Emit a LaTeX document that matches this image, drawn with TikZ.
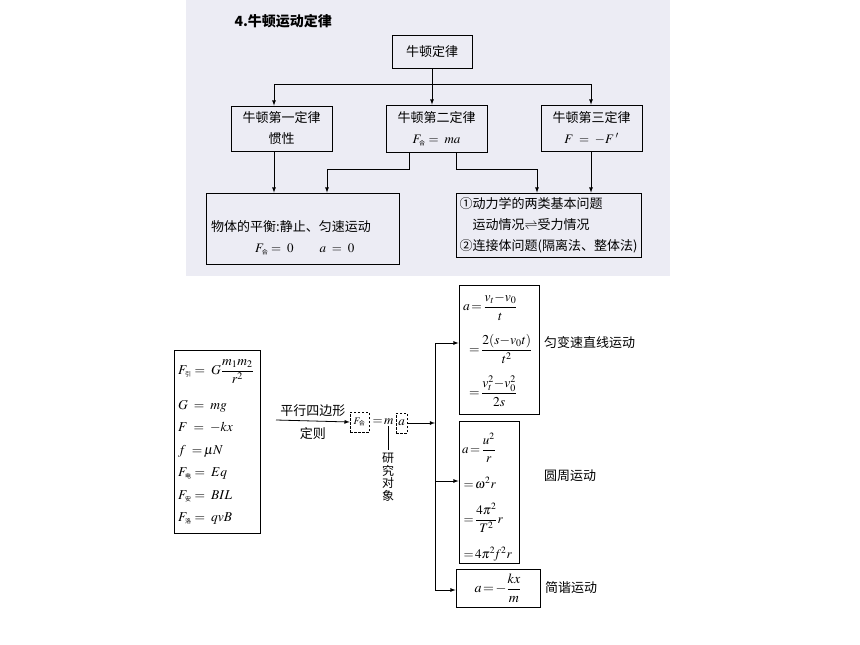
\documentclass[tikz,border=0pt]{standalone}
\usepackage{amsmath}
\usepackage{mathptmx}
\usepackage[no-math]{fontspec}
\setmainfont{Noto Sans CJK SC}
\usepackage{tikz}
\usetikzlibrary{arrows,positioning}
\definecolor{dibu}{RGB}{236,236,244}
\newcommand{\zi}[1]{\mbox{\fontsize{6}{6}\selectfont #1}}
\newcommand{\zhong}{\fontsize{13}{21}\selectfont}
\tikzstyle{kuang} = [draw, line width=0.8pt, rectangle, inner sep=0pt, align=center, font=\zhong]
\tikzstyle{xukuang} = [draw, line width=0.6pt, dash pattern=on 2.5pt off 1.5pt, inner sep=1.5pt, minimum height=20]
\tikzstyle{xian} = [line width=0.8pt]
\tikzstyle{jiantou} = [-latex, line width=0.8pt]
\tikzstyle{gongshi} = [align=left, inner sep=0pt, font=\fontsize{14}{22}\selectfont]
\tikzstyle{biaozhu} = [anchor=west, inner sep=0pt, font=\zhong]

\begin{document}
\begin{tikzpicture}[x=1pt,y=-1pt]
\useasboundingbox (0,0) rectangle (860,645);
\fill[dibu] (186,0) rectangle (670,276);
% 牛顿运动定律
\node[anchor=west, font=\fontsize{14}{14}\selectfont\bfseries] (biaoti) at (231,21) {4.牛顿运动定律};
\node[kuang, minimum width=80, minimum height=33] (dinglv) at (432,51.5) {牛顿定律};
\node[kuang, minimum width=101, minimum height=45] (diyi) at (281.5,128.5) {牛顿第一定律\\惯性};
\node[kuang, minimum width=101, minimum height=47] (dier) at (436.5,128.5) {牛顿第二定律\\$F_{\zi{合}}=\;ma$};
\node[kuang, minimum width=101, minimum height=46] (disan) at (591.5,128) {牛顿第三定律\\$F\;=\;-F\,'$};
\node[kuang, minimum width=193, minimum height=71] (pingheng) at (302.5,228.5) {};
\node[biaozhu, align=left] (pinghengzi) at (211,238) {物体的平衡:静止、匀速运动\\\hspace*{44pt}$F_{\zi{合}}=\;0\qquad a\;=\;0$};
\node[kuang, minimum width=185, minimum height=64, align=left] (jiben) at (548.5,225) {①动力学的两类基本问题\\\hspace*{1em}运动情况$\rightleftharpoons$受力情况\\②连接体问题(隔离法、整体法)};
\coordinate (z1) at (274,84);
\coordinate (z3) at (591,84);
\coordinate (z4) at (409,169);
\coordinate (z5) at (456,169);
\coordinate (z6) at (327,169);
\coordinate (z7) at (537,169);
\draw[jiantou] (dinglv.south) -- (dinglv.south |- dier.north);
\draw[xian] (z1) -- (z3);
\draw[jiantou] (z1) -- (z1 |- diyi.north);
\draw[jiantou] (z3) -- (z3 |- disan.north);
\draw[jiantou] (z1 |- diyi.south) -- (z1 |- pingheng.north);
\draw[jiantou] (z3 |- disan.south) -- (z3 |- jiben.north);
\draw[jiantou] (z4 |- dier.south) -- (z4) -- (z6) -- (z6 |- pingheng.north);
\draw[jiantou] (z5 |- dier.south) -- (z5) -- (z7) -- (z7 |- jiben.north);
% F=ma
\node[kuang, minimum width=86, minimum height=183] (lizhong) at (217,441.5) {};
\node[gongshi, anchor=west, font=\fontsize{13.5}{22.5}\selectfont] (lizhongzi) at (178,442) {$F_{\zi{引}}=\;G\dfrac{m_1m_2}{r^2}$\\[12pt]
$G\;=\;mg$\\ $F\;=\;{-}kx$\\ $f\;=\!\mu N$\\ $F_{\zi{电}}=\;Eq$\\ $F_{\zi{安}}=\;BIL$\\ $F_{\zi{洛}}=\;qvB$};
\coordinate (pxs) at (276,420);
\node[xukuang, minimum width=19] (fhe) at (359.5,422) {$F_{\zi{合}}$};
\node[inner sep=1pt, font=\fontsize{13}{13}\selectfont] (dengm) at (383,422) {$=\!m$};
\node[xukuang, minimum width=11, inner xsep=0.5pt, font=\fontsize{13}{13}\selectfont] (ajia) at (401.5,423) {$a$};
\draw[jiantou] (pxs) -- (fhe.west) node[midway, above=1pt, font=\zhong] (pxsz) {平行四边形} node[midway, below=3pt, font=\zhong] (dingze) {定则};
\node[align=center, font=\fontsize{12}{12.5}\selectfont] (yanjiu) at (388,477) {研\\究\\对\\象};
\draw[xian] (yanjiu.north |- dengm.south) -- (yanjiu.north);
\coordinate (gt) at (435,343);
\coordinate (gm) at (435,481);
\coordinate (gb) at (435,590);
\node[kuang, minimum width=80, minimum height=129] (biansu) at (499,349.5) {};
\node[kuang, minimum width=60, minimum height=142] (yuanzhou) at (489,492) {};
\node[kuang, minimum width=84, minimum height=38] (jianxie) at (498,588) {};
\node[gongshi, anchor=west, font=\fontsize{13.5}{43}\selectfont] (biansuzi) at (463,350) {$a\!=\!\dfrac{v_t{-}v_0}{t}$\\
$\;\;=\!\dfrac{2(s{-}v_0t)}{t^2}$\\ $\;\;=\!\dfrac{v_t^2{-}v_0^2}{2s}$};
\node[gongshi, anchor=west, font=\fontsize{13}{35}\selectfont] (yuanzhouzi) at (462,497) {$a\!=\!\dfrac{u^2}{r}$\\
$\,=\!\omega^2r$\\ $\,=\!\dfrac{4\pi^2}{T^2}r$\\ $\,=\!4\pi^2\!f^2r$};
\node[gongshi] (jianxiezi) at (498,588) {$a\!=\!-\dfrac{kx}{m}$};
\draw[xian] (gt) -- (gb);
\draw[jiantou] (ajia.east) -- (ajia.east -| gt);
\draw[jiantou] (gt) -- (gt -| biansu.west);
\draw[jiantou] (gm) -- (gm -| yuanzhou.west);
\draw[jiantou] (gb) -- (gb -| jianxie.west);
\node[biaozhu] (bsbiao) at (544,343) {匀变速直线运动};
\node[biaozhu] (yzbiao) at (544,476) {圆周运动};
\node[biaozhu] (jxbiao) at (545,588) {简谐运动};
\end{tikzpicture}
\end{document}
